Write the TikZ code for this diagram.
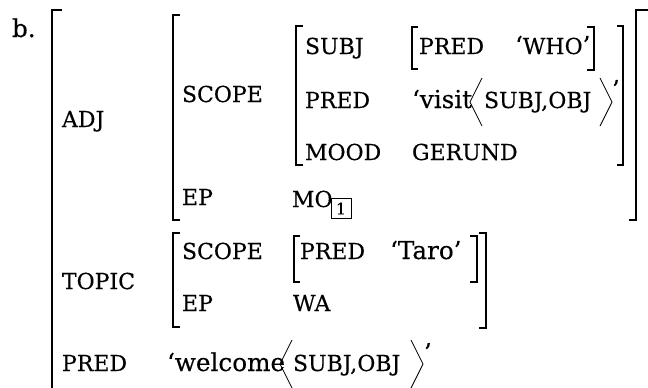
\documentclass[tikz,border=0pt]{standalone}
\usepackage{fontspec}
\setmainfont{DejaVu Serif}[FakeBold=0.3]
\newcommand{\capsf}[1]{{\fontsize{16.5}{19}\selectfont\addfontfeature{FakeBold=0.35}#1}}
\begin{document}
\begin{tikzpicture}[x=0.75pt,y=-0.75pt,
  txt/.style={anchor=base west,inner sep=0pt,outer sep=0pt,font=\fontsize{18.5}{22}\selectfont\addfontfeature{FakeBold=0.3}},
  brk/.style={line width=1.4pt},
  ang/.style={line width=0.65pt}]
\useasboundingbox (0,0) rectangle (648,387);
% text
\node[txt] (b) at (12,37) {b.};
\node[txt] (adj) at (62,127) {\capsf{ADJ}};
\node[txt] (scope1) at (182,102) {\capsf{SCOPE}};
\node[txt] (ep1) at (182,205) {\capsf{EP}};
\node[txt] (subj) at (305,54) {\capsf{SUBJ}};
\node[txt] (pred1) at (305,108) {\capsf{PRED}};
\node[txt] (mood) at (305,160) {\capsf{MOOD}};
\node[txt] (pred2) at (419,54) {\capsf{PRED}};
\node[txt] (who) at (515,54) {‘\capsf{WHO}’};
\node[txt] (visit) at (412,108) {‘visit};
\node[txt] (args1) at (484,108) {\capsf{SUBJ,OBJ}};
\node[txt] (q1) at (612,98) {’};
\node[txt] (gerund) at (412,160) {\capsf{GERUND}};
\node[txt] (mo) at (292,207) {\capsf{MO}};
\draw[line width=0.6pt] (331,198) rectangle (351,218);
\node[inner sep=0pt,font=\fontsize{12}{14}\selectfont] (one) at (341,208.5) {1};
\node[txt] (topic) at (62,289) {\capsf{TOPIC}};
\node[txt] (scope2) at (182,259) {\capsf{SCOPE}};
\node[txt] (ep2) at (182,311) {\capsf{EP}};
\node[txt] (pred3) at (300,259) {\capsf{PRED}};
\node[txt] (taro) at (390,259) {‘Taro’};
\node[txt] (wa) at (293,311) {\capsf{WA}};
\node[txt] (pred4) at (62,371) {\capsf{PRED}};
\node[txt] (welcome) at (167,371) {‘welcome};
\node[txt] (args2) at (293,371) {\capsf{SUBJ,OBJ}};
\node[txt] (q2) at (424,361) {’};
% brackets
\draw[brk] (62,10) -- (52,10) -- (52,395);
\draw[brk] (180,15) -- (173,15) -- (173,220) -- (180,220);
\draw[brk] (648,10) -- (636,10) -- (636,220) -- (629,220);
\draw[brk] (303,26) -- (296,26) -- (296,165) -- (303,165);
\draw[brk] (617,26) -- (623,26) -- (623,165) -- (617,165);
\draw[brk] (418,27) -- (412,27) -- (412,69) -- (418,69);
\draw[brk] (587,27) -- (594,27) -- (594,70) -- (587,70);
\draw[brk] (180,233) -- (173,233) -- (173,327) -- (180,327);
\draw[brk] (479,233) -- (486,233) -- (486,328) -- (479,328);
\draw[brk] (300,236) -- (294,236) -- (294,282) -- (300,282);
\draw[brk] (470,236) -- (477,236) -- (477,282) -- (470,282);
% angle brackets
\draw[ang] (482,78) -- (470,102) -- (482,126);
\draw[ang] (600,78) -- (612,102) -- (600,126);
\draw[ang] (292,340) -- (280,364) -- (292,388);
\draw[ang] (411,340) -- (423,364) -- (411,388);
\end{tikzpicture}
\end{document}
